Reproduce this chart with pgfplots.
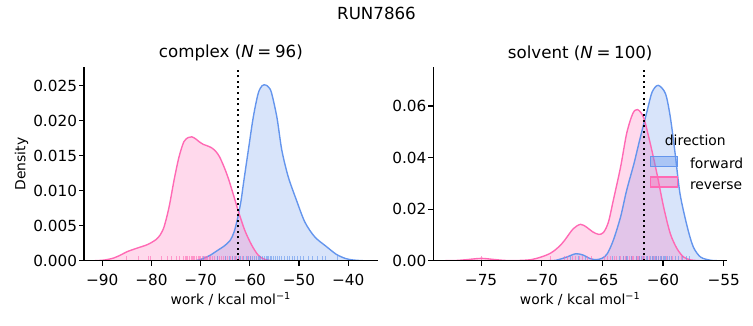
\documentclass[border=0pt]{standalone}
\usepackage{fontspec}
\setmainfont{DejaVu Sans}
\usepackage{pgfplots}
\pgfplotsset{compat=1.18}
\definecolor{fwd}{RGB}{100,149,237}
\definecolor{rev}{RGB}{255,105,180}
\pgfplotsset{
  kde/.style={
    scale only axis, width=211.5pt, height=139.25pt,
    axis x line*=bottom, axis y line*=left,
    axis line style={-, line width=0.8pt},
    tick align=outside, major tick length=3.5pt,
    every tick/.style={black, line width=0.8pt},
    ymin=0, axis on top,
    tick label style={font=\fontsize{11}{13}\selectfont},
    xticklabel style={yshift=-2.5pt},
    yticklabel style={xshift=2pt},
    label style={font=\fontsize{10}{12}\selectfont},
    every axis x label/.style={at={(axis description cs:0.5,-0.197)}, anchor=center},
    every axis y label/.style={at={(axis description cs:-0.213,0.5)}, rotate=90, anchor=center},
    every axis title shift=0pt,
    title style={font=\fontsize{12}{14}\selectfont, at={(axis description cs:0.5,1.074)}, anchor=center},
    xlabel={work / kcal mol\textsuperscript{−1}},
    scaled y ticks=false,
  },
  fillcurve/.style={fill=#1, fill opacity=0.25, draw=none, smooth, forget plot},
  linecurve/.style={draw=#1, line width=1pt, smooth, forget plot},
  rug/.style={ycomb, draw=#1, line width=0.7pt, opacity=0.6, mark=none, forget plot},
}
\begin{document}
\begin{tikzpicture}
\path[use as bounding box] (-60.48pt,-46.3pt) rectangle (481.68pt,187.7pt);
\node[font=\fontsize{12}{14}\selectfont] at (210.6pt,178.3pt) {RUN7866};

% ---------------- complex ----------------
\begin{axis}[kde, at={(0pt,0pt)}, anchor=south west,
  xmin=-93.7, xmax=-34.0, ymax=0.02763,
  title={complex (\textit{N}\hspace{0.22em}=\hspace{0.22em}96)},
  ylabel={Density},
  xtick={-90,-80,-70,-60,-50,-40},
  xticklabels={−90,−80,−70,−60,−50,−40},
  ytick={0,0.005,0.010,0.015,0.020,0.025},
  yticklabels={0.000,0.005,0.010,0.015,0.020,0.025},
]
\addplot[fillcurve=fwd] coordinates {
(-71,0) (-69.5,0.0003) (-68,0.0008) (-66.5,0.0015) (-65.2,0.0021) (-64,0.0029)
(-63.2,0.0041) (-62.5,0.0060) (-61.8,0.0085) (-61.3,0.0110) (-60.3,0.0158)
(-59.3,0.0205) (-58.3,0.0239) (-57.5,0.0250) (-56.8,0.0251) (-56.2,0.0248)
(-55.6,0.0240) (-54.5,0.0205) (-53.5,0.0158) (-52.2,0.0120) (-50.5,0.0086)
(-48.8,0.0055) (-46.8,0.0034) (-44.4,0.0020) (-42.4,0.0009) (-40.5,0.0003)
(-39,0.0001) (-37,0)} \closedcycle;
\addplot[fillcurve=rev] coordinates {
(-91.5,0) (-89.5,0.0001) (-87.6,0.0004) (-86,0.0009) (-84.9,0.0013) (-82.9,0.0018)
(-80.8,0.0023) (-79.1,0.0030) (-78.2,0.0037) (-77.4,0.0049) (-76.4,0.0077)
(-75.4,0.0115) (-74.4,0.0148) (-73.4,0.0170) (-72.5,0.0176) (-71.8,0.0177)
(-71.0,0.0174) (-70.3,0.0170) (-69.4,0.0166) (-68.6,0.0164) (-67.7,0.0161)
(-66.9,0.0156) (-66.2,0.0149) (-65.6,0.0140) (-64.9,0.0128) (-64.2,0.0114)
(-63.2,0.0091) (-62.3,0.0070) (-61.0,0.0043) (-59.6,0.0022) (-58.3,0.0008)
(-57.0,0.0002) (-55.5,0)} \closedcycle;
\addplot[linecurve=fwd] coordinates {
(-71,0) (-69.5,0.0003) (-68,0.0008) (-66.5,0.0015) (-65.2,0.0021) (-64,0.0029)
(-63.2,0.0041) (-62.5,0.0060) (-61.8,0.0085) (-61.3,0.0110) (-60.3,0.0158)
(-59.3,0.0205) (-58.3,0.0239) (-57.5,0.0250) (-56.8,0.0251) (-56.2,0.0248)
(-55.6,0.0240) (-54.5,0.0205) (-53.5,0.0158) (-52.2,0.0120) (-50.5,0.0086)
(-48.8,0.0055) (-46.8,0.0034) (-44.4,0.0020) (-42.4,0.0009) (-40.5,0.0003)
(-39,0.0001) (-37,0)};
\addplot[linecurve=rev] coordinates {
(-91.5,0) (-89.5,0.0001) (-87.6,0.0004) (-86,0.0009) (-84.9,0.0013) (-82.9,0.0018)
(-80.8,0.0023) (-79.1,0.0030) (-78.2,0.0037) (-77.4,0.0049) (-76.4,0.0077)
(-75.4,0.0115) (-74.4,0.0148) (-73.4,0.0170) (-72.5,0.0176) (-71.8,0.0177)
(-71.0,0.0174) (-70.3,0.0170) (-69.4,0.0166) (-68.6,0.0164) (-67.7,0.0161)
(-66.9,0.0156) (-66.2,0.0149) (-65.6,0.0140) (-64.9,0.0128) (-64.2,0.0114)
(-63.2,0.0091) (-62.3,0.0070) (-61.0,0.0043) (-59.6,0.0022) (-58.3,0.0008)
(-57.0,0.0002) (-55.5,0)};
\addplot[rug=rev] table[x index=0, y expr=0.00069] {
x
-85.0
-82.7
-80.6
-80.1
-77.9
-76.8
-75.9
-74.9
-74.2
-73.5
-73.1
-72.9
-72.6
-72.2
-71.9
-71.7
-71.5
-71.2
-70.8
-70.5
-70.3
-70.1
-69.7
-69.3
-69.0
-68.9
-68.6
-68.2
-67.9
-67.5
-67.1
-66.6
-66.2
-65.8
-65.3
-64.9
-64.5
-64.0
-63.6
-63.1
-62.7
-62.2
-61.5
-60.4
-59.8
};
\addplot[rug=fwd] table[x index=0, y expr=0.00069] {
x
-69.4
-66.5
-65.0
-64.2
-63.5
-62.9
-62.3
-61.8
-61.2
-60.7
-60.2
-59.8
-59.4
-59.0
-58.6
-58.2
-58.0
-57.8
-57.4
-57.0
-56.7
-56.5
-56.3
-55.9
-55.5
-55.1
-54.7
-54.3
-54.0
-53.9
-53.5
-52.9
-52.4
-51.9
-51.4
-50.9
-50.3
-49.7
-49.0
-48.1
-47.2
-46.3
-45.2
-44.6
-42.1
};
\addplot[black, line width=1.5pt, dash pattern=on 1.5pt off 2.5pt, forget plot]
  coordinates {(-62.4,0) (-62.4,0.02763)};
\end{axis}

% ---------------- solvent ----------------
\begin{axis}[kde, at={(251.5pt,0pt)}, anchor=south west,
  xmin=-78.94, xmax=-54.72, ymax=0.0750,
  title={solvent (\textit{N}\hspace{0.22em}=\hspace{0.22em}100)},
  xtick={-75,-70,-65,-60,-55},
  xticklabels={−75,−70,−65,−60,−55},
  ytick={0,0.02,0.04,0.06},
  yticklabels={0.00,0.02,0.04,0.06},
  legend style={at={(0.738,0.546)}, anchor=north west, draw=none, fill=none,
    inner sep=0pt, outer sep=0pt, row sep=0pt,
    font=\fontsize{10}{12}\selectfont,
    nodes={inner sep=2.35pt, text height=7.5pt, text depth=2.5pt},
    /tikz/every odd column/.append style={column sep=6pt}},
  legend cell align=left,
  legend image code/.code={\draw[#1] (0pt,-0.9pt) rectangle (19.4pt,6.3pt);},
]
\addplot[fillcurve=fwd] coordinates {
(-69.5,0) (-68.8,0.0002) (-67.95,0.0014) (-67.2,0.0027) (-66.6,0.0022) (-66.0,0.0008)
(-65.5,0.0004) (-65.0,0.0010) (-64.6,0.0027) (-64.1,0.0079) (-63.5,0.0170)
(-63.0,0.0273) (-62.4,0.0376) (-61.9,0.0473) (-61.3,0.0583) (-60.9,0.0654)
(-60.4,0.0680) (-59.8,0.0648) (-59.4,0.0557) (-59.0,0.0415) (-58.6,0.0260)
(-58.0,0.0131) (-57.5,0.0053) (-56.9,0.0014) (-56.1,0.0002) (-55.5,0)} \closedcycle;
\addplot[fillcurve=rev] coordinates {
(-78,0) (-77,0.0001) (-76.2,0.0004) (-75,0.0009) (-74,0.0005) (-73,0.0001)
(-71.8,0.0001) (-70.9,0.0004) (-70.2,0.0012) (-69.5,0.0024) (-69.05,0.0036)
(-68.5,0.0058) (-68.1,0.0080) (-67.4,0.0124) (-66.8,0.0141) (-66.3,0.0130)
(-65.8,0.0112) (-65.3,0.0102) (-64.9,0.0110) (-64.5,0.0150) (-64.1,0.0234)
(-63.5,0.0363) (-63.0,0.0493) (-62.5,0.0570) (-62.1,0.0586) (-61.6,0.0555)
(-61.05,0.0454) (-60.5,0.0337) (-59.95,0.0208) (-59.4,0.0105) (-58.85,0.0047)
(-58.3,0.0014) (-57.7,0.0003) (-57,0)} \closedcycle;
\addplot[linecurve=fwd] coordinates {
(-69.5,0) (-68.8,0.0002) (-67.95,0.0014) (-67.2,0.0027) (-66.6,0.0022) (-66.0,0.0008)
(-65.5,0.0004) (-65.0,0.0010) (-64.6,0.0027) (-64.1,0.0079) (-63.5,0.0170)
(-63.0,0.0273) (-62.4,0.0376) (-61.9,0.0473) (-61.3,0.0583) (-60.9,0.0654)
(-60.4,0.0680) (-59.8,0.0648) (-59.4,0.0557) (-59.0,0.0415) (-58.6,0.0260)
(-58.0,0.0131) (-57.5,0.0053) (-56.9,0.0014) (-56.1,0.0002) (-55.5,0)};
\addplot[linecurve=rev] coordinates {
(-78,0) (-77,0.0001) (-76.2,0.0004) (-75,0.0009) (-74,0.0005) (-73,0.0001)
(-71.8,0.0001) (-70.9,0.0004) (-70.2,0.0012) (-69.5,0.0024) (-69.05,0.0036)
(-68.5,0.0058) (-68.1,0.0080) (-67.4,0.0124) (-66.8,0.0141) (-66.3,0.0130)
(-65.8,0.0112) (-65.3,0.0102) (-64.9,0.0110) (-64.5,0.0150) (-64.1,0.0234)
(-63.5,0.0363) (-63.0,0.0493) (-62.5,0.0570) (-62.1,0.0586) (-61.6,0.0555)
(-61.05,0.0454) (-60.5,0.0337) (-59.95,0.0208) (-59.4,0.0105) (-58.85,0.0047)
(-58.3,0.0014) (-57.7,0.0003) (-57,0)};
\addplot[rug=rev] table[x index=0, y expr=0.0019] {
x
-74.95
-69.3
-68.1
-67.9
-67.5
-67.2
-66.9
-66.6
-66.2
-65.9
-64.8
-64.6
-64.3
-64.0
-63.8
-63.5
-63.3
-63.1
-63.0
-62.8
-62.6
-62.5
-62.4
-62.2
-62.1
-62.0
-61.9
-61.7
-61.6
-61.5
-61.3
-61.1
-60.9
-60.7
-60.5
-60.4
-60.1
-59.7
-59.2
-58.5
};
\addplot[rug=fwd] table[x index=0, y expr=0.0019] {
x
-67.6
-67.0
-66.4
-64.2
-63.6
-63.3
-63.0
-62.9
-62.6
-62.2
-61.9
-61.8
-61.6
-61.4
-61.3
-61.0
-60.9
-60.8
-60.6
-60.5
-60.4
-60.2
-60.1
-60.0
-59.9
-59.8
-59.6
-59.5
-59.3
-59.0
-58.7
-58.4
-58.1
-57.8
};
\addplot[black, line width=1.5pt, dash pattern=on 1.5pt off 2.5pt, forget plot]
  coordinates {(-61.6,0) (-61.6,0.0750)};
\addlegendimage{draw=fwd, fill=fwd, fill opacity=0.4, line width=1pt}
\addlegendentry{forward}
\addlegendimage{draw=rev, fill=rev, fill opacity=0.4, line width=1pt}
\addlegendentry{reverse}
\node[font=\fontsize{10}{12}\selectfont] at (axis description cs:0.892,0.624) {direction};
\end{axis}
\end{tikzpicture}
\end{document}
